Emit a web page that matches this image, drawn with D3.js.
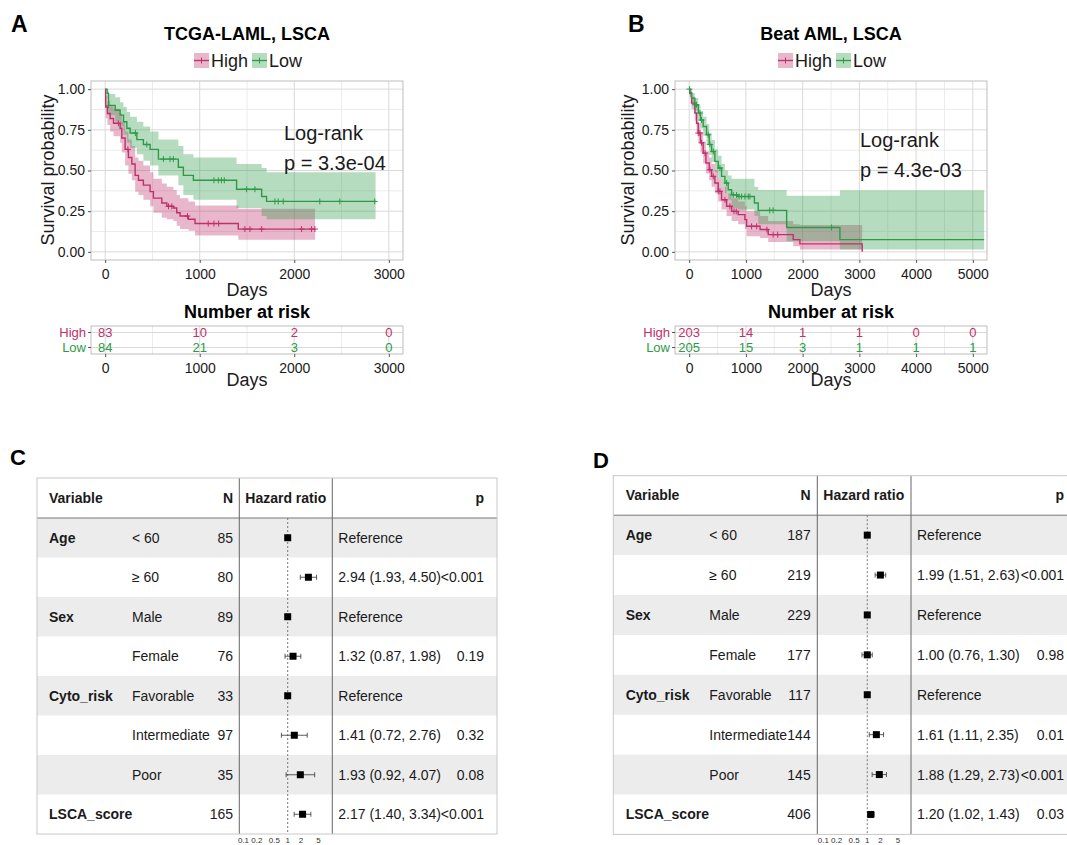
<!DOCTYPE html>
<html>
<head>
<meta charset="utf-8">
<script src="https://cdn.jsdelivr.net/npm/d3@7"></script>
<style>
  body { margin: 0; background: #fff; }
</style>
</head>
<body>
<div id="app"></div>
<script>
// ---------- data ----------
const groups = ["High", "Low"];

// Kaplan-Meier steps: [day, survival, lower CI, upper CI]
const tcgaHigh = [
  [0, 1.0, 1.0, 1.0], [5, 0.89, 0.82, 0.96], [24, 0.85, 0.78, 0.93], [53, 0.82, 0.74, 0.9],
  [88, 0.79, 0.71, 0.88], [158, 0.76, 0.67, 0.85], [176, 0.7, 0.61, 0.8], [211, 0.63, 0.53, 0.74],
  [246, 0.58, 0.48, 0.69], [282, 0.54, 0.44, 0.65], [317, 0.47, 0.37, 0.58], [352, 0.44, 0.35, 0.56],
  [404, 0.41, 0.32, 0.53], [475, 0.37, 0.28, 0.49], [510, 0.33, 0.24, 0.45], [599, 0.3, 0.21, 0.42],
  [652, 0.28, 0.2, 0.4], [721, 0.27, 0.19, 0.38], [757, 0.24, 0.16, 0.35], [792, 0.22, 0.14, 0.33],
  [880, 0.2, 0.13, 0.31], [950, 0.174, 0.1, 0.285], [1408, 0.14, 0.075, 0.265]
];
const tcgaHighEnd = 2220;
const tcgaHighCensor = [140, 240, 670, 705, 870, 1090, 1150, 1200, 1478, 1531, 1655, 2077, 2183, 2218];

const tcgaLow = [
  [0, 1.0, 1.0, 1.0], [20, 0.975, 0.94, 1.0], [35, 0.9, 0.84, 0.97], [106, 0.87, 0.8, 0.95],
  [158, 0.84, 0.77, 0.92], [194, 0.8, 0.72, 0.89], [229, 0.76, 0.67, 0.86], [264, 0.73, 0.64, 0.83],
  [335, 0.69, 0.6, 0.8], [404, 0.66, 0.56, 0.77], [475, 0.63, 0.53, 0.74], [563, 0.57, 0.47, 0.69],
  [774, 0.52, 0.41, 0.65], [827, 0.47, 0.35, 0.6], [933, 0.44, 0.32, 0.58], [1390, 0.385, 0.27, 0.54],
  [1655, 0.34, 0.22, 0.515], [1707, 0.31, 0.2, 0.49]
];
const tcgaLowEnd = 2860;
const tcgaLowCensor = [35, 320, 440, 616, 686, 721, 1150, 1197, 1230, 1260, 1496, 1584, 1795, 1830, 1883, 2270, 2482, 2851];

const beatHigh = [
  [0, 1.0, 1.0, 1.0], [10, 0.975, 0.95, 1.0], [42, 0.914, 0.876, 0.953], [100, 0.853, 0.806, 0.903],
  [130, 0.79, 0.736, 0.848], [160, 0.73, 0.672, 0.793], [200, 0.67, 0.61, 0.737], [247, 0.607, 0.544, 0.677],
  [295, 0.546, 0.482, 0.618], [353, 0.505, 0.44, 0.58], [395, 0.464, 0.4, 0.54], [453, 0.423, 0.36, 0.5],
  [512, 0.372, 0.31, 0.45], [571, 0.32, 0.26, 0.4], [660, 0.28, 0.22, 0.36], [748, 0.249, 0.19, 0.33],
  [864, 0.229, 0.17, 0.31], [982, 0.198, 0.14, 0.28], [1012, 0.157, 0.096, 0.25], [1250, 0.137, 0.085, 0.22],
  [1393, 0.106, 0.06, 0.19], [1834, 0.075, 0.035, 0.17], [1952, 0.049, 0.015, 0.165], [3050, 0, 0, 0]
];
const beatHighEnd = 3050;
const beatHighCensor = [160, 189, 218, 280, 365, 424, 512, 542, 630, 718, 790, 830, 1100, 1190, 1370, 1480, 1560];

const beatLow = [
  [0, 1.0, 1.0, 1.0], [10, 0.98, 0.96, 1.0], [42, 0.945, 0.914, 0.977], [100, 0.904, 0.864, 0.945],
  [160, 0.853, 0.806, 0.903], [200, 0.81, 0.758, 0.865], [247, 0.77, 0.714, 0.83], [306, 0.72, 0.66, 0.785],
  [353, 0.66, 0.597, 0.73], [395, 0.617, 0.553, 0.688], [453, 0.556, 0.49, 0.63], [512, 0.515, 0.45, 0.59],
  [571, 0.464, 0.4, 0.54], [630, 0.423, 0.36, 0.5], [688, 0.382, 0.32, 0.47], [748, 0.35, 0.27, 0.45],
  [864, 0.34, 0.26, 0.45], [1150, 0.3, 0.22, 0.4], [1217, 0.255, 0.17, 0.38], [1718, 0.15, 0.065, 0.345],
  [2657, 0.075, 0.015, 0.378]
];
const beatLowEnd = 5200;
const beatLowCensor = [5, 100, 130, 189, 218, 336, 365, 424, 542, 660, 777, 835, 880, 924, 982, 1041, 1071, 1420, 1480, 2510];

// Number at risk
const tcgaRiskTimes = [0, 1000, 2000, 3000];
const tcgaRiskHigh = [83, 10, 2, 0];
const tcgaRiskLow = [84, 21, 3, 0];
const beatRiskTimes = [0, 1000, 2000, 3000, 4000, 5000];
const beatRiskHigh = [203, 14, 1, 1, 0, 0];
const beatRiskLow = [205, 15, 3, 1, 1, 1];

const tcgaPval = "p = 3.3e-04";
const beatPval = "p = 4.3e-03";

// Forest plots (Cox model)
const forestVars = ["Age", "", "Sex", "", "Cyto_risk", "", "", "LSCA_score"];
const forestLevels = ["< 60", "≥ 60", "Male", "Female", "Favorable", "Intermediate", "Poor", ""];
const tcgaN = [85, 80, 89, 76, 33, 97, 35, 165];
const tcgaHR = [1, 2.94, 1, 1.32, 1, 1.41, 1.93, 2.17];
const tcgaLo = [null, 1.93, null, 0.87, null, 0.72, 0.92, 1.40];
const tcgaHi = [null, 4.50, null, 1.98, null, 2.76, 4.07, 3.34];
const tcgaP = ["", "<0.001", "", "0.19", "", "0.32", "0.08", "<0.001"];
const beatN = [187, 219, 229, 177, 117, 144, 145, 406];
const beatHR = [1, 1.99, 1, 1.00, 1, 1.61, 1.88, 1.20];
const beatLo = [null, 1.51, null, 0.76, null, 1.11, 1.29, 1.02];
const beatHi = [null, 2.63, null, 1.30, null, 2.35, 2.73, 1.43];
const beatP = ["", "<0.001", "", "0.98", "", "0.01", "<0.001", "0.03"];
const hrTicks = [0.1, 0.2, 0.5, 1, 2, 5];

// ---------- drawing ----------
const FONT = '"Liberation Sans", Arial, Helvetica, sans-serif';
const colHigh = "#c0306a";
const colLow = "#2d9a47";
const gridMajor = "#d9d9d9";
const gridMinor = "#ececec";
const textCol = "#1a1a1a";

const svg = d3.select("#app")
  .append("svg")
  .attr("width", 1067)
  .attr("height", 845)
  .style("font-family", FONT);

function survAt(steps, t) {
  let s = steps[0][1];
  steps.forEach(d => { if (d[0] <= t) s = d[1]; });
  return s;
}

function drawKM(c) {
  const x = d3.scaleLinear().domain(c.xDomain).range([c.left, c.right]);
  const y = d3.scaleLinear().domain([-0.05, 1.05]).range([260, 81]);
  const g = svg.append("g");
  const cx = (c.left + c.right) / 2;

  g.append("text").attr("x", c.labelX).attr("y", 32)
    .style("font-size", "23px").style("font-weight", "bold").text(c.label);
  g.append("text").attr("x", cx).attr("y", 40).attr("text-anchor", "middle")
    .style("font-size", "18px").style("font-weight", "bold").text(c.title);

  // legend
  const legend = [
    { name: groups[0], col: colHigh, kx: cx - 53 },
    { name: groups[1], col: colLow, kx: cx + 5 }
  ];
  legend.forEach(l => {
    g.append("rect").attr("x", l.kx).attr("y", 53).attr("width", 15).attr("height", 15)
      .attr("fill", l.col).attr("fill-opacity", 0.35);
    g.append("line").attr("x1", l.kx).attr("x2", l.kx + 15).attr("y1", 60.5).attr("y2", 60.5)
      .attr("stroke", l.col).attr("stroke-width", 1.3);
    g.append("line").attr("x1", l.kx + 7.5).attr("x2", l.kx + 7.5).attr("y1", 57.5).attr("y2", 63.5)
      .attr("stroke", l.col).attr("stroke-width", 1);
    g.append("text").attr("x", l.kx + 17).attr("y", 67).style("font-size", "18px")
      .attr("fill", textCol).text(l.name);
  });

  // grid
  const minorX = d3.range(c.xTicks.length - 1).map(i => (c.xTicks[i] + c.xTicks[i + 1]) / 2);
  const yTicks = [0, 0.25, 0.5, 0.75, 1];
  const yMinor = [0.125, 0.375, 0.625, 0.875];
  g.selectAll(null).data(minorX).enter().append("line")
    .attr("x1", d => x(d)).attr("x2", d => x(d)).attr("y1", 81).attr("y2", 260)
    .attr("stroke", gridMinor);
  g.selectAll(null).data(yMinor).enter().append("line")
    .attr("x1", c.left).attr("x2", c.right).attr("y1", d => y(d)).attr("y2", d => y(d))
    .attr("stroke", gridMinor);
  g.selectAll(null).data(c.xTicks).enter().append("line")
    .attr("x1", d => x(d)).attr("x2", d => x(d)).attr("y1", 81).attr("y2", 260)
    .attr("stroke", gridMajor);
  g.selectAll(null).data(yTicks).enter().append("line")
    .attr("x1", c.left).attr("x2", c.right).attr("y1", d => y(d)).attr("y2", d => y(d))
    .attr("stroke", gridMajor);

  // bands, then lines
  const series = [
    { steps: c.high, end: c.highEnd, censor: c.highCensor, col: colHigh },
    { steps: c.low, end: c.lowEnd, censor: c.lowCensor, col: colLow }
  ];
  const band = d3.area().curve(d3.curveStepAfter)
    .x(d => x(d[0])).y0(d => y(d[2])).y1(d => y(d[3]));
  const line = d3.line().curve(d3.curveStepAfter)
    .x(d => x(d[0])).y(d => y(d[1]));
  series.forEach(s => {
    const last = s.steps[s.steps.length - 1];
    g.append("path").attr("d", band(s.steps.concat([[s.end, last[1], last[2], last[3]]])))
      .attr("fill", s.col).attr("fill-opacity", 0.35);
  });
  series.forEach(s => {
    const last = s.steps[s.steps.length - 1];
    g.append("path").attr("d", line(s.steps.concat([[s.end, last[1]]])))
      .attr("fill", "none").attr("stroke", s.col).attr("stroke-width", 1.4);
    g.selectAll(null).data(s.censor).enter().append("path")
      .attr("d", t => {
        const px = x(t), py = y(survAt(s.steps, t));
        return `M${px - 3},${py}H${px + 3}M${px},${py - 3}V${py + 3}`;
      })
      .attr("stroke", s.col).attr("stroke-width", 1);
  });

  // panel border
  g.append("rect").attr("x", c.left).attr("y", 81).attr("width", c.right - c.left).attr("height", 179)
    .attr("fill", "none").attr("stroke", "#bdbdbd");

  // axes
  const yAxis = g.append("g").attr("transform", `translate(${c.left},0)`)
    .call(d3.axisLeft(y).tickValues(yTicks).tickFormat(d3.format(".2f")).tickSize(3));
  const xAxis = g.append("g").attr("transform", "translate(0,260)")
    .call(d3.axisBottom(x).tickValues(c.xTicks).tickFormat(d3.format("d")).tickSize(3));
  [xAxis, yAxis].forEach(a => {
    a.select(".domain").remove();
    a.selectAll(".tick line").attr("stroke", "#555");
    a.selectAll("text").style("font-size", "14px").style("font-family", FONT).attr("fill", textCol);
  });
  xAxis.selectAll("text").attr("dy", "0.95em");

  g.append("text").attr("transform", `translate(${c.yTitleX},${170}) rotate(-90)`)
    .attr("text-anchor", "middle").style("font-size", "18px").attr("fill", textCol)
    .text("Survival probability");
  g.append("text").attr("x", cx).attr("y", 296).attr("text-anchor", "middle")
    .style("font-size", "18px").attr("fill", textCol).text("Days");

  // log-rank annotation
  g.append("text").attr("x", c.left + c.annoDX).attr("y", c.annoY)
    .style("font-size", "20px").attr("fill", textCol).text("Log-rank");
  g.append("text").attr("x", c.left + c.annoDX).attr("y", c.annoY + 30)
    .style("font-size", "20px").attr("fill", textCol).text(c.pval);

  // number at risk table
  g.append("text").attr("x", cx).attr("y", 318).attr("text-anchor", "middle")
    .style("font-size", "18px").style("font-weight", "bold").text("Number at risk");
  const ry = d3.scalePoint().domain(groups).range([332.5, 347.5]);
  g.selectAll(null).data(minorX).enter().append("line")
    .attr("x1", d => x(d)).attr("x2", d => x(d)).attr("y1", 326).attr("y2", 354)
    .attr("stroke", gridMinor);
  g.selectAll(null).data(c.xTicks).enter().append("line")
    .attr("x1", d => x(d)).attr("x2", d => x(d)).attr("y1", 326).attr("y2", 354)
    .attr("stroke", gridMajor);
  g.selectAll(null).data(groups).enter().append("line")
    .attr("x1", c.left).attr("x2", c.right).attr("y1", d => ry(d)).attr("y2", d => ry(d))
    .attr("stroke", gridMajor);
  g.append("rect").attr("x", c.left).attr("y", 326).attr("width", c.right - c.left).attr("height", 28)
    .attr("fill", "none").attr("stroke", "#bdbdbd");

  const riskRows = [
    { name: groups[0], vals: c.riskHigh, col: colHigh },
    { name: groups[1], vals: c.riskLow, col: colLow }
  ];
  riskRows.forEach(r => {
    g.selectAll(null).data(r.vals).enter().append("text")
      .attr("x", (d, i) => x(c.riskTimes[i])).attr("y", ry(r.name)).attr("dy", "0.36em")
      .attr("text-anchor", "middle").style("font-size", "13px").attr("fill", r.col)
      .text(d => d);
    g.append("text").attr("x", c.left - 5).attr("y", ry(r.name)).attr("dy", "0.36em")
      .attr("text-anchor", "end").style("font-size", "13px").attr("fill", r.col).text(r.name);
    g.append("line").attr("x1", c.left - 3).attr("x2", c.left).attr("y1", ry(r.name)).attr("y2", ry(r.name))
      .attr("stroke", "#555");
  });
  const rAxis = g.append("g").attr("transform", "translate(0,354)")
    .call(d3.axisBottom(x).tickValues(c.xTicks).tickFormat(d3.format("d")).tickSize(3));
  rAxis.select(".domain").remove();
  rAxis.selectAll(".tick line").attr("stroke", "#555");
  rAxis.selectAll("text").style("font-size", "14px").style("font-family", FONT)
    .attr("fill", textCol).attr("dy", "0.9em");
  g.append("text").attr("x", cx).attr("y", 386).attr("text-anchor", "middle")
    .style("font-size", "18px").attr("fill", textCol).text("Days");
}

drawKM({
  label: "A", labelX: 11, title: "TCGA-LAML, LSCA",
  left: 91, right: 403, xDomain: [-150, 3150], xTicks: [0, 1000, 2000, 3000],
  yTitleX: 54, annoDX: 193, annoY: 140, pval: tcgaPval,
  high: tcgaHigh, highEnd: tcgaHighEnd, highCensor: tcgaHighCensor,
  low: tcgaLow, lowEnd: tcgaLowEnd, lowCensor: tcgaLowCensor,
  riskTimes: tcgaRiskTimes, riskHigh: tcgaRiskHigh, riskLow: tcgaRiskLow
});
drawKM({
  label: "B", labelX: 628, title: "Beat AML, LSCA",
  left: 675, right: 987, xDomain: [-250, 5250], xTicks: [0, 1000, 2000, 3000, 4000, 5000],
  yTitleX: 634, annoDX: 185, annoY: 147, pval: beatPval,
  high: beatHigh, highEnd: beatHighEnd, highCensor: beatHighCensor,
  low: beatLow, lowEnd: beatLowEnd, lowCensor: beatLowCensor,
  riskTimes: beatRiskTimes, riskHigh: beatRiskHigh, riskLow: beatRiskLow
});

function drawForest(c, n, hr, lo, hi, p) {
  const g = svg.append("g");
  const nRows = forestLevels.length;
  const rowTop = i => c.top + c.headH + i * c.rowH;
  const rowMid = i => rowTop(i) + c.rowH / 2;
  const bottom = rowTop(nRows);

  g.append("text").attr("x", c.labelX).attr("y", c.labelY)
    .style("font-size", "22px").style("font-weight", "bold").text(c.label);

  forestLevels.forEach((_, i) => {
    if (i % 2 === 0) {
      g.append("rect").attr("x", c.left).attr("y", rowTop(i))
        .attr("width", c.right - c.left).attr("height", c.rowH).attr("fill", "#ececec");
    }
  });

  // header
  const headY = c.top + c.headH / 2;
  const head = [
    { t: "Variable", x: c.left + c.colVar, a: "start" },
    { t: "N", x: c.left + c.colN, a: "end" },
    { t: "Hazard ratio", x: c.left + c.colV1 + 6, a: "start" },
    { t: "p", x: c.left + c.colP, a: "end" }
  ];
  head.forEach(h => {
    g.append("text").attr("x", h.x).attr("y", headY).attr("dy", "0.36em")
      .attr("text-anchor", h.a).style("font-size", "14px").style("font-weight", "bold")
      .attr("fill", textCol).text(h.t);
  });

  // rows
  forestLevels.forEach((lev, i) => {
    const ym = rowMid(i);
    const txt = (x, s, a, bold) => g.append("text").attr("x", x).attr("y", ym).attr("dy", "0.36em")
      .attr("text-anchor", a).style("font-size", "14px").style("font-weight", bold ? "bold" : "normal")
      .attr("fill", textCol).text(s);
    if (forestVars[i]) txt(c.left + c.colVar, forestVars[i], "start", true);
    if (lev) txt(c.left + c.colLev, lev, "start", false);
    txt(c.left + c.colN, n[i], "end", false);
    const est = lo[i] === null ? "Reference"
      : `${hr[i].toFixed(2)} (${lo[i].toFixed(2)}, ${hi[i].toFixed(2)})`;
    txt(c.left + c.colV2 + 6, est, "start", false);
    if (p[i]) txt(c.left + c.colP, p[i], "end", false);
  });

  // hazard ratio scale
  const x = d3.scaleLog().domain([0.1, 5]).range(c.hrRange);
  g.append("line").attr("x1", x(1)).attr("x2", x(1)).attr("y1", rowTop(0)).attr("y2", bottom)
    .attr("stroke", "#777").attr("stroke-dasharray", "2,2");
  forestLevels.forEach((_, i) => {
    const ym = rowMid(i);
    if (lo[i] !== null) {
      g.append("path")
        .attr("d", `M${x(lo[i])},${ym}H${x(hi[i])}M${x(lo[i])},${ym - 2.5}V${ym + 2.5}M${x(hi[i])},${ym - 2.5}V${ym + 2.5}`)
        .attr("stroke", "#333").attr("stroke-width", 0.8).attr("fill", "none");
    }
    g.append("rect").attr("x", x(hr[i]) - 3.5).attr("y", ym - 3.5).attr("width", 7).attr("height", 7)
      .attr("fill", "#000");
  });
  g.selectAll(null).data(hrTicks).enter().append("text")
    .attr("x", d => x(d)).attr("y", bottom + 9).attr("text-anchor", "middle")
    .style("font-size", "8px").attr("fill", "#333").text(d => d);

  // lines and border
  g.append("line").attr("x1", c.left).attr("x2", c.right).attr("y1", c.top + c.headH).attr("y2", c.top + c.headH)
    .attr("stroke", "#777");
  [c.colV1, c.colV2].forEach(v => {
    g.append("line").attr("x1", c.left + v).attr("x2", c.left + v).attr("y1", c.top).attr("y2", bottom)
      .attr("stroke", "#666");
  });
  g.append("rect").attr("x", c.left).attr("y", c.top).attr("width", c.right - c.left)
    .attr("height", bottom - c.top).attr("fill", "none").attr("stroke", "#c8c8c8");
}

drawForest({
  label: "C", labelX: 10, labelY: 465,
  left: 37, right: 497, top: 478, headH: 40, rowH: 39.5,
  colVar: 12, colLev: 95, colN: 196, colV1: 202.3, colV2: 295.3, colP: 447,
  hrRange: [243.5, 318.6]
}, tcgaN, tcgaHR, tcgaLo, tcgaHi, tcgaP);

drawForest({
  label: "D", labelX: 593, labelY: 468,
  left: 613.3, right: 1085, top: 475.7, headH: 39.5, rowH: 39.9,
  colVar: 12.4, colLev: 96, colN: 197.4, colV1: 204, colV2: 297.7, colP: 450.7,
  hrRange: [823.3, 898]
}, beatN, beatHR, beatLo, beatHi, beatP);
</script>
</body>
</html>
